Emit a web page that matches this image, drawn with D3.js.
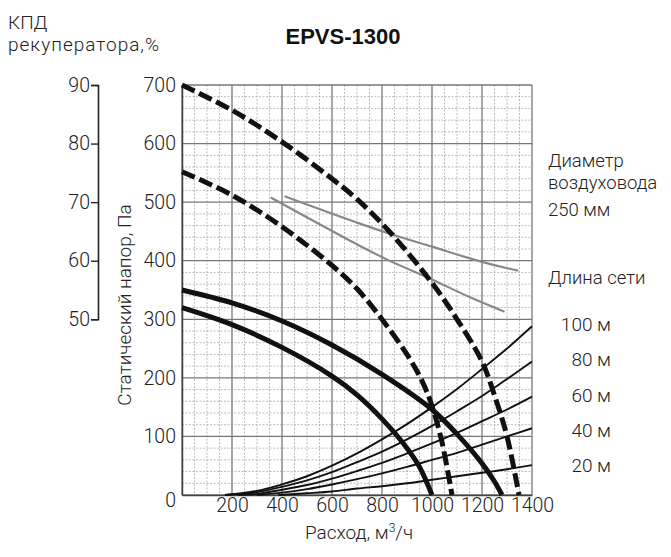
<!DOCTYPE html>
<html>
<head>
<meta charset="utf-8">
<script src="https://cdn.jsdelivr.net/npm/d3@7"></script>
<style>
body { margin: 0; background: #fff; }
text { font-family: Roboto, "Liberation Sans", sans-serif; font-weight: 300; fill: #222; }
</style>
</head>
<body>
<div id="chart"></div>
<script>
// DATA
// Fan curves, [flow m3/h, pressure Pa]
var fanDashedHigh = [[0,700],[200,657],[400,603],[600,540],[700,505],[825,452],[1000,362],[1100,300],[1200,228],[1250,170],[1300,100],[1348,0]];
var fanDashedLow = [[0,552],[200,512],[400,458],[600,392],[700,352],[800,300],[900,240],[960,195],[1000,152],[1040,90],[1080,0]];
var fanSolidHigh = [[0,350],[200,328],[400,297],[600,256],[800,206],[1000,146],[1100,104],[1200,54],[1250,23],[1280,0]];
var fanSolidLow = [[0,320],[200,291],[400,252],[600,203],[700,171],[800,130],[900,80],[950,48],[1000,0]];

// Recuperator efficiency, [flow m3/h, %]
var kpdUpper = [[410,71],[700,66.5],[825,64.7],[1000,62.4],[1200,59.8],[1345,58.3]];
var kpdLower = [[355,70.8],[700,62.8],[825,60.1],[1000,56.8],[1150,53.8],[1290,51.3]];

// Network curves, [flow m3/h, pressure Pa]
var net100 = [[172,0],[300,7],[400,18],[500,32],[600,50],[700,71],[800,95],[900,121],[1000,150],[1100,181],[1200,215],[1300,250],[1400,288]];
var net80 = [[172,0],[300,5],[400,14],[500,25],[600,39],[700,56],[800,74],[900,95],[1000,118],[1100,143],[1200,169],[1300,198],[1400,228]];
var net60 = [[225,0],[300,2],[400,9],[500,17],[600,28],[700,41],[800,55],[900,71],[1000,88],[1100,106],[1200,126],[1300,146],[1400,168]];
var net40 = [[299,0],[400,4],[500,10],[600,18],[700,27],[800,37],[900,48],[1000,60],[1100,72],[1200,86],[1300,100],[1400,114]];
var net20 = [[385,0],[500,3],[600,6],[700,11],[800,15],[900,20],[1000,26],[1100,32],[1200,38],[1300,44],[1400,51]];

var networkLabels = ["100 м", "80 м", "60 м", "40 м", "20 м"];
var flowTicks = [200, 400, 600, 800, 1000, 1200, 1400];
var pressureTicks = [0, 100, 200, 300, 400, 500, 600, 700];
var kpdTicks = [50, 60, 70, 80, 90];

var width = 671, height = 557;

var svg = d3.select("#chart").append("svg")
    .attr("width", width)
    .attr("height", height);

var x = d3.scaleLinear().domain([0, 1400]).range([182, 532]);
var y = d3.scaleLinear().domain([0, 700]).range([495, 85]);
var kpd = d3.scaleLinear().domain([50, 90]).range([y(300), y(700)]);

// minor grid
svg.append("g")
    .selectAll("line")
    .data(d3.range(0, 1401, 50).filter(function(d) { return d % 200 != 0; }))
    .enter().append("line")
    .attr("x1", function(d) { return x(d); })
    .attr("x2", function(d) { return x(d); })
    .attr("y1", y(700))
    .attr("y2", y(0))
    .style("stroke", "#aaa")
    .style("stroke-width", 0.8)
    .style("stroke-dasharray", "2,1.5");

svg.append("g")
    .selectAll("line")
    .data(d3.range(0, 701, 20).filter(function(d) { return d % 100 != 0; }))
    .enter().append("line")
    .attr("x1", x(0))
    .attr("x2", x(1400))
    .attr("y1", function(d) { return y(d); })
    .attr("y2", function(d) { return y(d); })
    .style("stroke", "#aaa")
    .style("stroke-width", 0.8)
    .style("stroke-dasharray", "2,1.5");

// major grid
svg.append("g")
    .selectAll("line")
    .data(d3.range(0, 1401, 200))
    .enter().append("line")
    .attr("x1", function(d) { return x(d); })
    .attr("x2", function(d) { return x(d); })
    .attr("y1", y(700))
    .attr("y2", y(0))
    .style("stroke", "#777")
    .style("stroke-width", 1.3);

svg.append("g")
    .selectAll("line")
    .data(pressureTicks)
    .enter().append("line")
    .attr("x1", x(0))
    .attr("x2", x(1400))
    .attr("y1", function(d) { return y(d); })
    .attr("y2", function(d) { return y(d); })
    .style("stroke", "#777")
    .style("stroke-width", 1.3);

// axes
var xAxis = svg.append("g")
    .attr("transform", "translate(0," + y(0) + ")")
    .call(d3.axisBottom(x).tickValues(flowTicks).tickFormat(d3.format("d")).tickSize(0).tickPadding(3));
xAxis.select(".domain").style("stroke", "#444").style("stroke-width", 1.5);

var yAxis = svg.append("g")
    .attr("transform", "translate(" + x(0) + ",0)")
    .call(d3.axisLeft(y).tickValues(pressureTicks).tickSize(0).tickPadding(6));
yAxis.select(".domain").style("stroke", "#444").style("stroke-width", 1.5);
yAxis.selectAll(".tick text").attr("dy", function(d) { return d == 0 ? "0.6em" : "0.32em"; });

svg.selectAll(".tick text")
    .style("font-family", "Roboto, 'Liberation Sans', sans-serif")
    .style("font-weight", 300)
    .style("font-size", "19.5px")
    .style("fill", "#222");

// KPD axis
var kAxis = svg.append("g")
    .attr("transform", "translate(98,0)")
    .call(d3.axisLeft(kpd).tickValues(kpdTicks).tickSize(7).tickPadding(1));
kAxis.select(".domain").style("stroke", "#222").style("stroke-width", 1.6);
kAxis.selectAll(".tick line").style("stroke", "#222").style("stroke-width", 1.4);
kAxis.selectAll(".tick text")
    .style("font-family", "Roboto, 'Liberation Sans', sans-serif")
    .style("font-weight", 300)
    .style("font-size", "19.5px")
    .style("fill", "#222");

var line = d3.line()
    .x(function(d) { return x(d[0]); })
    .y(function(d) { return y(d[1]); })
    .curve(d3.curveCatmullRom.alpha(0.5));

var kpdLine = d3.line()
    .x(function(d) { return x(d[0]); })
    .y(function(d) { return kpd(d[1]); })
    .curve(d3.curveCatmullRom.alpha(0.5));

// network curves
[net100, net80, net60, net40, net20].forEach(function(s) {
    svg.append("path")
        .attr("d", line(s))
        .style("fill", "none")
        .style("stroke", "#111")
        .style("stroke-width", 1.9);
});

// recuperator efficiency
[kpdUpper, kpdLower].forEach(function(s) {
    svg.append("path")
        .attr("d", kpdLine(s))
        .style("fill", "none")
        .style("stroke", "#888")
        .style("stroke-width", 2.2);
});

// fan curves
[fanSolidHigh, fanSolidLow].forEach(function(s) {
    svg.append("path")
        .attr("d", line(s))
        .style("fill", "none")
        .style("stroke", "#111")
        .style("stroke-width", 5);
});

[fanDashedHigh, fanDashedLow].forEach(function(s) {
    svg.append("path")
        .attr("d", line(s))
        .style("fill", "none")
        .style("stroke", "#111")
        .style("stroke-width", 5)
        .style("stroke-dasharray", "14,5");
});

// titles
svg.append("text")
    .attr("x", 343)
    .attr("y", 44)
    .attr("text-anchor", "middle")
    .style("font-family", "'Liberation Sans', Arial, sans-serif")
    .style("font-weight", "bold")
    .style("font-size", "22px")
    .style("fill", "#111")
    .text("EPVS-1300");

svg.append("text")
    .attr("x", 8)
    .attr("y", 29)
    .style("font-size", "19px")
    .text("КПД");

svg.append("text")
    .attr("x", 8)
    .attr("y", 51)
    .style("font-size", "19px")
    .style("letter-spacing", "1px")
    .text("рекуператора,%");

svg.append("text")
    .attr("transform", "translate(131,305) rotate(-90)")
    .attr("text-anchor", "middle")
    .style("font-size", "19px")
    .text("Статический напор, Па");

var xLabel = svg.append("text")
    .attr("x", 359)
    .attr("y", 539)
    .attr("text-anchor", "middle")
    .style("font-size", "19px");
xLabel.append("tspan").text("Расход, м");
xLabel.append("tspan").attr("dy", -7).style("font-size", "12px").text("3");
xLabel.append("tspan").attr("dy", 7).text("/ч");

// right labels
var rightLines = [["Диаметр", 167], ["воздуховода", 189], ["250 мм", 216], ["Длина сети", 284]];
rightLines.forEach(function(d) {
    svg.append("text")
        .attr("x", 548)
        .attr("y", d[1])
        .style("font-size", "18.5px")
        .text(d[0]);
});

var netY = [331, 366, 402, 437, 472];
networkLabels.forEach(function(d, i) {
    svg.append("text")
        .attr("x", 611)
        .attr("y", netY[i])
        .attr("text-anchor", "end")
        .style("font-size", "19px")
        .text(d);
});
</script>
</body>
</html>
